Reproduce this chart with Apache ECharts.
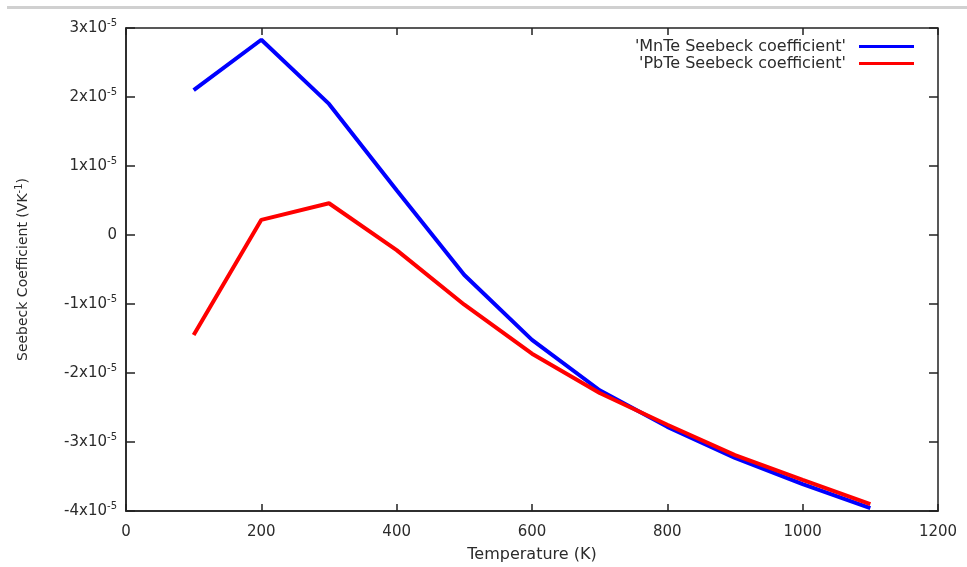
<!DOCTYPE html>
<html>
<head>
<meta charset="utf-8">
<script src="https://cdn.jsdelivr.net/npm/echarts@6/dist/echarts.min.js"></script>
<style>
  html, body { margin: 0; padding: 0; background: #fff; }
  #chart { width: 967px; height: 567px; }
</style>
</head>
<body>
<div id="chart"></div>
<script>
const temps = [100, 200, 300, 400, 500, 600, 700, 800, 900, 1000, 1100];
const mnte = [2.10e-5, 2.83e-5, 1.90e-5, 0.65e-5, -0.58e-5, -1.52e-5, -2.25e-5, -2.78e-5, -3.23e-5, -3.61e-5, -3.96e-5];
const pbte = [-1.45e-5, 0.22e-5, 0.46e-5, -0.22e-5, -1.01e-5, -1.72e-5, -2.29e-5, -2.75e-5, -3.19e-5, -3.55e-5, -3.90e-5];
const seriesNames = ["'MnTe Seebeck coefficient'", "'PbTe Seebeck coefficient'"];

const textColor = '#2b2b2b';
const fontFamily = 'DejaVu Sans';

function pairs(xs, ys) {
  return xs.map(function (x, i) { return [x, ys[i]]; });
}

// y tick labels like 3x10^-5
function yLabel(v) {
  const k = Math.round(v / 1e-5);
  if (k === 0) return '{a|0}';
  return '{a|' + k + 'x10}{s|-5}';
}

const richText = {
  a: { fontSize: 15, color: textColor, fontFamily: fontFamily, lineHeight: 20 },
  s: { fontSize: 10, color: textColor, fontFamily: fontFamily, verticalAlign: 'top', lineHeight: 11 }
};

const chart = echarts.init(document.getElementById('chart'));

const option = {
  backgroundColor: '#fff',
  animation: false,
  graphic: [{
    type: 'rect',
    shape: { x: 7, y: 6, width: 960, height: 3 },
    style: { fill: '#d0d0d0' },
    silent: true
  }],
  grid: {
    left: 126,
    right: 29,
    top: 28,
    bottom: 56,
    outerBoundsMode: 'none',
    show: true,
    borderColor: '#222',
    borderWidth: 1.5,
    backgroundColor: 'transparent'
  },
  legend: {
    orient: 'vertical',
    right: 48,
    top: 33,
    align: 'right',
    itemWidth: 55,
    itemHeight: 3,
    itemGap: 0,
    icon: 'rect',
    textStyle: { fontSize: 16, color: textColor, fontFamily: fontFamily, padding: [0, 8, 0, 0], lineHeight: 17 },
    data: seriesNames
  },
  xAxis: [{
    type: 'value',
    min: 0,
    max: 1200,
    interval: 200,
    name: 'Temperature (K)',
    nameLocation: 'middle',
    nameGap: 36,
    nameTextStyle: { fontSize: 16, color: textColor, fontFamily: fontFamily },
    axisLine: { show: true, onZero: false, lineStyle: { color: '#222', width: 1.5 } },
    axisTick: { show: true, inside: true, length: 7, lineStyle: { color: '#222', width: 1.5 } },
    axisLabel: { fontSize: 15, color: textColor, fontFamily: fontFamily, margin: 14, formatter: function (v) { return String(v); } },
    splitLine: { show: false }
  }, {
    type: 'value',
    position: 'top',
    min: 0,
    max: 1200,
    interval: 200,
    axisLine: { show: false, onZero: false },
    axisTick: { show: true, inside: true, length: 7, lineStyle: { color: '#222', width: 1.5 } },
    axisLabel: { show: false },
    splitLine: { show: false }
  }],
  yAxis: [{
    type: 'value',
    min: -4e-5,
    max: 3e-5,
    interval: 1e-5,
    name: '{a|Seebeck Coefficient (VK}{s|-1}{a|)}',
    nameLocation: 'middle',
    nameGap: 94,
    nameTextStyle: {
      rich: {
        a: { fontSize: 14, color: textColor, fontFamily: fontFamily, lineHeight: 18 },
        s: { fontSize: 10, color: textColor, fontFamily: fontFamily, verticalAlign: 'top', lineHeight: 10 }
      }
    },
    axisLine: { show: true, onZero: false, lineStyle: { color: '#222', width: 1.5 } },
    axisTick: { show: true, inside: true, length: 9, lineStyle: { color: '#222', width: 1.5 } },
    axisLabel: { formatter: yLabel, rich: richText, margin: 9 },
    splitLine: { show: false }
  }, {
    type: 'value',
    position: 'right',
    min: -4e-5,
    max: 3e-5,
    interval: 1e-5,
    axisLine: { show: false, onZero: false },
    axisTick: { show: true, inside: true, length: 9, lineStyle: { color: '#222', width: 1.5 } },
    axisLabel: { show: false },
    splitLine: { show: false }
  }],
  series: [{
    name: seriesNames[0],
    type: 'line',
    data: pairs(temps, mnte),
    showSymbol: false,
    symbol: 'none',
    color: '#0000ff',
    lineStyle: { width: 4, color: '#0000ff' }
  }, {
    name: seriesNames[1],
    type: 'line',
    data: pairs(temps, pbte),
    showSymbol: false,
    symbol: 'none',
    color: '#ff0000',
    lineStyle: { width: 4, color: '#ff0000' }
  }]
};

chart.setOption(option);
</script>
</body>
</html>
